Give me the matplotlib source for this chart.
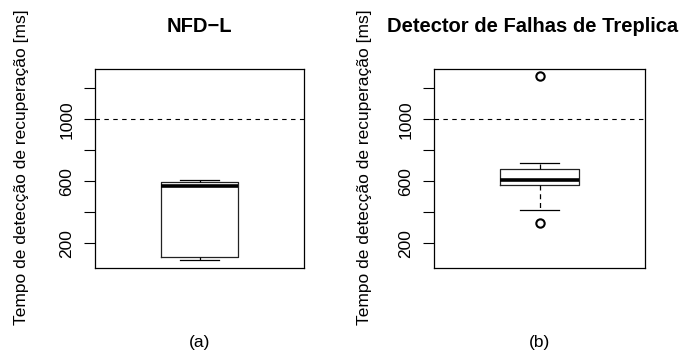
import matplotlib
matplotlib.use("Agg")
import matplotlib.pyplot as plt

plt.rcParams['font.family'] = ['Liberation Sans', 'DejaVu Sans']

titles = ["NFD\u2212L", "Detector de Falhas de Treplica"]
captions = ["(a)", "(b)"]
ylabel = "Tempo de detecção de recuperação [ms]"

# box summaries
whislo = [92, 416]
q1 = [114, 574]
med = [572, 611]
q3 = [594, 680]
whishi = [611, 719]
fliers = [[], [330, 1280]]

threshold = 1000
yticks = [200, 400, 600, 800, 1000, 1200]
yticklabels = ["200", "", "600", "", "1000", ""]

W, H = 686, 353
fig = plt.figure(figsize=(W / 100, H / 100), dpi=100)

# axes boxes in pixels: left, top, right, bottom
boxes = [(95, 69, 304, 268), (434, 69, 645, 268)]
label_x = [22, 365]
title_x = [199.5, 533]

for i in range(2):
    l, t, r, b = boxes[i]
    ax = fig.add_axes([l / W, 1 - b / H, (r - l) / W, (b - t) / H])
    st = [dict(med=med[i], q1=q1[i], q3=q3[i], whislo=whislo[i],
               whishi=whishi[i], fliers=fliers[i])]
    ax.bxp(st, positions=[1], widths=0.37, capwidths=0.185,
           boxprops=dict(color='#222222', linewidth=0.9),
           medianprops=dict(color='black', linewidth=2.6),
           whiskerprops=dict(color='black', linewidth=0.9, linestyle=(0, (4, 3))),
           capprops=dict(color='black', linewidth=0.9),
           flierprops=dict(marker='o', markerfacecolor='none', markeredgecolor='black',
                           markersize=6, markeredgewidth=1.5))
    ax.axhline(threshold, color='black', linewidth=0.8, linestyle=(0, (4, 4)))
    ax.set_xlim(0.5, 1.5)
    ax.set_ylim(42, 1325)
    ax.set_xticks([])
    ax.set_yticks(yticks)
    ax.set_yticklabels(yticklabels, rotation=90, va='center', fontsize=12.5)
    ax.tick_params(axis='y', length=8, width=0.8, pad=7)
    for s in ax.spines.values():
        s.set_linewidth(0.9)
    fig.text(title_x[i] / W, 1 - 27 / H, titles[i], ha='center', va='center',
             fontsize=14.5, fontweight='bold')
    fig.text((l + r) / 2 / W, 1 - 343 / H, captions[i], ha='center', va='center',
             fontsize=12.5)
    fig.text(label_x[i] / W, 1 - 167.5 / H, ylabel, rotation=90, ha='center',
             va='center', fontsize=12.5)

fig.savefig("out.png", dpi=100)
